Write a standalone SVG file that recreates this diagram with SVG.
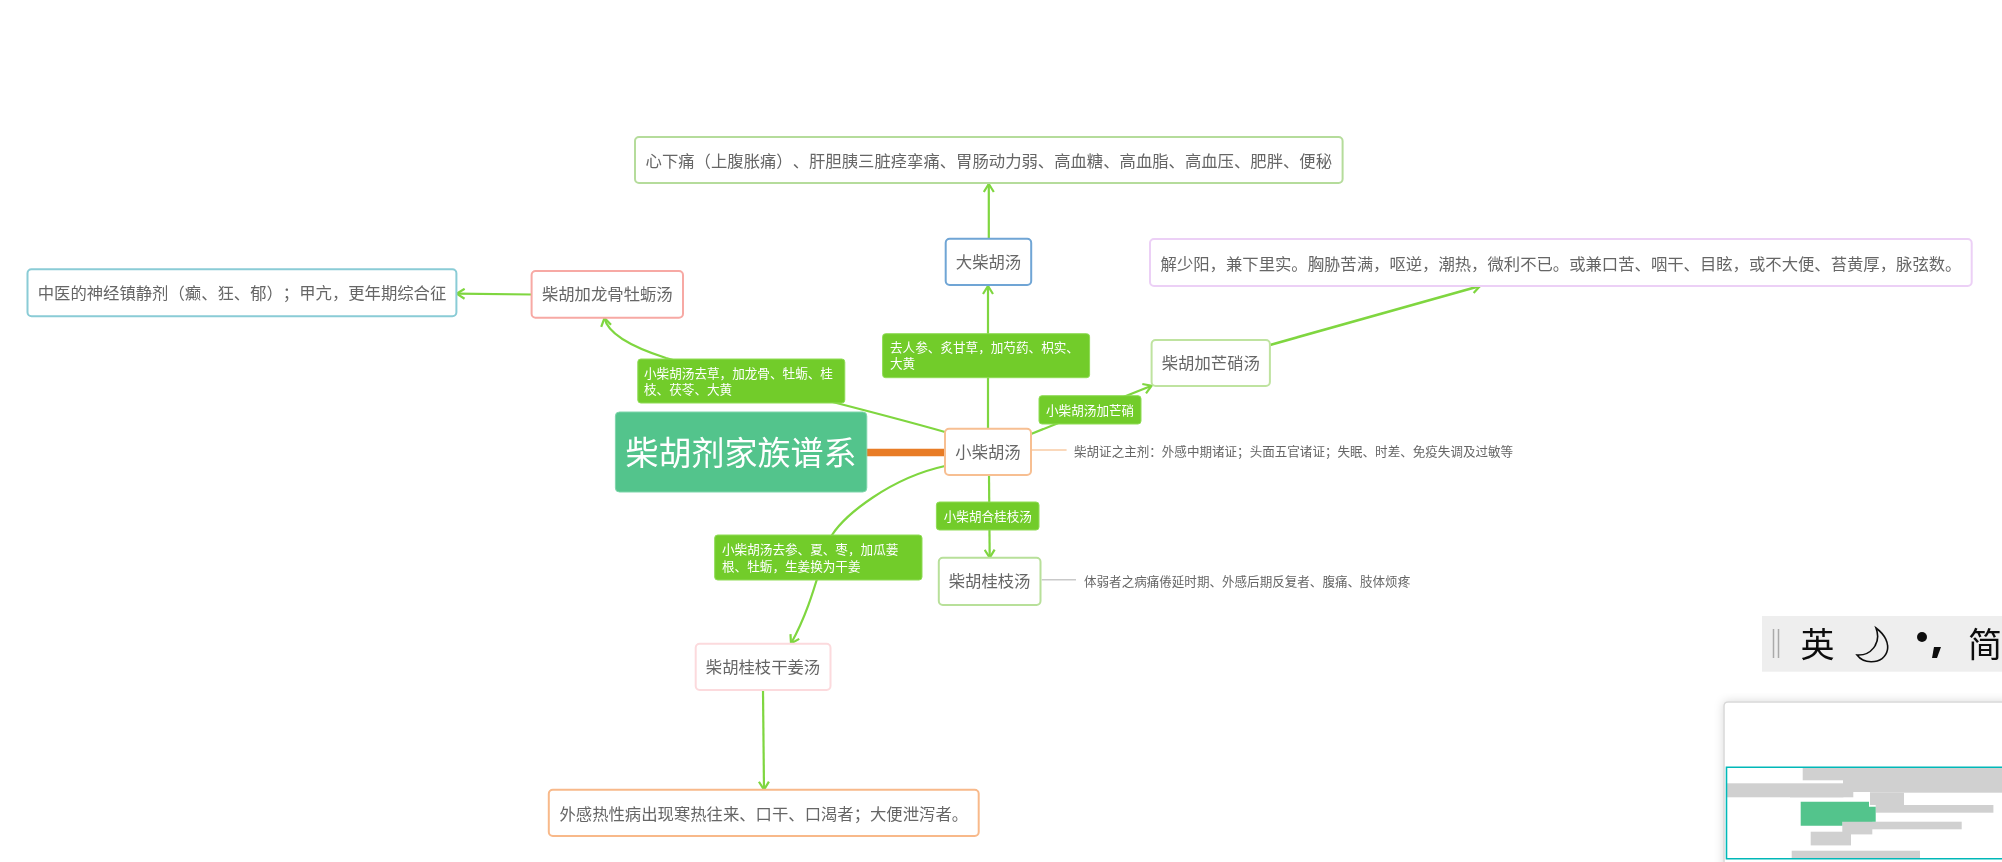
<svg xmlns="http://www.w3.org/2000/svg" width="2002" height="862" viewBox="0 0 2002 862">
<style>
text{font-family:"Noto Sans CJK SC","Liberation Sans",sans-serif;text-spacing-trim:space-all;font-kerning:none}
.n{fill:#fff;stroke-width:2}
.t{font-size:16.35px;fill:#666;text-anchor:middle}
.d{font-size:12.55px;fill:#666}
.l{fill:#72cc2c;stroke:#8fdc55;stroke-width:1}
.lt{font-size:12.6px;fill:#fff}
.c{fill:none;stroke:#7fd63f;stroke-width:2.2;marker-end:url(#a)}
.g{fill:#d0d0d0}
</style>
<defs>
<marker id="a" viewBox="-10 -6 11 12" refX="0" refY="0" markerWidth="11" markerHeight="12" markerUnits="userSpaceOnUse" orient="auto"><path d="M-8 -5L0 0L-8 5" fill="none" stroke="#7fd63f" stroke-width="2.2"/></marker>
<filter id="s" x="-5%" y="-5%" width="110%" height="110%"><feDropShadow dx="0" dy="0" stdDeviation="5" flood-color="#000" flood-opacity="0.15"/></filter>
<filter id="b" filterUnits="userSpaceOnUse" x="0" y="0" width="2002" height="862"><feGaussianBlur stdDeviation="0.45"/></filter>
</defs>
<rect width="2002" height="862" fill="#fff"/>
<g id="diagram" filter="url(#b)">
<g id="connectors">
<path d="M866 452.5H946" fill="none" stroke="#e87c25" stroke-width="7.5"/>
<path d="M1031 450H1066.6" fill="none" stroke="#f9cba5" stroke-width="1.5"/>
<path d="M1041.7 579.7H1076" fill="none" stroke="#c9c9c9" stroke-width="1.5"/>
<path class="c" d="M988 429V286"/>
<path class="c" d="M988.8 238.7V184"/>
<path class="c" d="M1031 434L1151.6 385.7"/>
<path class="c" style="stroke-width:2.6" d="M1270 345L1480 286"/>
<path class="c" d="M945 432C850 405 760 385 666 358C635 348 608 335 604.5 318"/>
<path class="c" d="M531.6 294.5L456.6 293.7"/>
<path class="c" d="M945 466C890 478 845 515 832 535C820 560 815 600 791 643.5"/>
<path class="c" d="M989 475L989.7 557.7"/>
<path class="c" d="M763 691L764 789.7"/>
</g>
<g id="root"><rect x="615.4" y="412" width="251.4" height="80" rx="4" fill="#52c48c" stroke="#7fd5ab" stroke-width="1"/><text x="741" y="465" font-size="33" fill="#fff" text-anchor="middle">柴胡剂家族谱系</text></g>
<g id="n-xiao"><rect class="n" x="945" y="428.7" width="86" height="46.3" rx="4" stroke="#f7bf92"/><text class="t" x="988" y="457.5">小柴胡汤</text></g>
<g id="n-da"><rect class="n" x="945.7" y="238.7" width="85.5" height="46.3" rx="4" stroke="#6fa5d5"/><text class="t" x="988.5" y="267.5">大柴胡汤</text></g>
<g id="n-top"><rect class="n" x="635" y="137" width="707.6" height="46" rx="4" stroke="#b5dc9b"/><text class="t" x="988.8" y="166.5">心下痛（上腹胀痛）、肝胆胰三脏痉挛痛、胃肠动力弱、高血糖、高血脂、高血压、肥胖、便秘</text></g>
<g id="n-mang"><rect class="n" x="1151.6" y="340" width="118.3" height="46" rx="4" stroke="#bfe3a0"/><text class="t" x="1210.8" y="369">柴胡加芒硝汤</text></g>
<g id="n-purple"><rect class="n" x="1150" y="239" width="821.7" height="47" rx="4" stroke="#ecd0f6"/><text class="t" x="1561" y="270">解少阳，兼下里实。胸胁苦满，呕逆，潮热，微利不已。或兼口苦、咽干、目眩，或不大便、苔黄厚，脉弦数。</text></g>
<g id="n-long"><rect class="n" x="531.6" y="271" width="151.4" height="46.7" rx="4" stroke="#f7a9a4"/><text class="t" x="607.3" y="300">柴胡加龙骨牡蛎汤</text></g>
<g id="n-shen"><rect class="n" x="27.5" y="269.3" width="428.9" height="47" rx="4" stroke="#8accd6"/><text class="t" x="242" y="299">中医的神经镇静剂（癫、狂、郁）；甲亢，更年期综合征</text></g>
<g id="n-gui"><rect class="n" x="938.8" y="557.7" width="101.7" height="47.3" rx="4" stroke="#b8e09a"/><text class="t" x="989.6" y="587">柴胡桂枝汤</text></g>
<g id="n-gan"><rect class="n" x="695.7" y="643.7" width="134.8" height="46.3" rx="4" stroke="#fcdadd"/><text class="t" x="763" y="673">柴胡桂枝干姜汤</text></g>
<g id="n-wai"><rect class="n" x="548.8" y="789.7" width="429.9" height="46.3" rx="4" stroke="#f8b98a"/><text class="t" x="763.8" y="819.5">外感热性病出现寒热往来、口干、口渴者；大便泄泻者。</text></g>
<g id="labels">
<g id="l-da"><rect class="l" x="882.6" y="333.7" width="207" height="44" rx="3"/><text class="lt" x="890" y="352.2">去人参、炙甘草，加芍药、枳实、</text><text class="lt" x="890" y="368.2">大黄</text></g>
<g id="l-long"><rect class="l" x="637.8" y="359" width="207" height="44" rx="3"/><text class="lt" x="644" y="378">小柴胡汤去草，加龙骨、牡蛎、桂</text><text class="lt" x="644" y="394">枝、茯苓、大黄</text></g>
<g id="l-mang"><rect class="l" x="1039" y="395.7" width="102" height="28.3" rx="3"/><text class="lt" x="1046" y="414.5">小柴胡汤加芒硝</text></g>
<g id="l-gui"><rect class="l" x="936.4" y="502" width="102.6" height="28" rx="3"/><text class="lt" x="943.7" y="521">小柴胡合桂枝汤</text></g>
<g id="l-gan"><rect class="l" x="714.7" y="535" width="207.3" height="45" rx="3"/><text class="lt" x="722" y="554">小柴胡汤去参、夏、枣，加瓜蒌</text><text class="lt" x="722" y="570.5">根、牡蛎，生姜换为干姜</text></g>
</g>
<g id="n-d1"><text class="d" x="1074" y="456">柴胡证之主剂：外感中期诸证；头面五官诸证；失眠、时差、免疫失调及过敏等</text></g>
<g id="n-d2"><text class="d" x="1084" y="586">体弱者之病痛倦延时期、外感后期反复者、腹痛、肢体烦疼</text></g>
<g id="ime">
<rect x="1762" y="616" width="240" height="55.7" fill="#eee"/>
<path d="M1773.5 629V658M1778.5 629V658" stroke="#aaa" stroke-width="1.5"/>
<text x="1800.5" y="657" font-size="34" fill="#111">英</text>
<path d="M1876 628C1895 642 1889 662 1871 661.7C1865 661.7 1860 659 1857 655C1870 656 1882 644 1876 628Z" fill="none" stroke="#111" stroke-width="1.6"/>
<circle cx="1922" cy="637" r="5" fill="#111"/>
<path d="M1934 647H1941L1937 658H1932Z" fill="#111"/>
<text x="1968" y="657" font-size="34" fill="#111">简</text>
</g>
<g id="minimap">
<path d="M2010 702H1728Q1724 702 1724 706V870H2010Z" fill="#fff" stroke="#d8d8d8" stroke-width="1.5" filter="url(#s)"/>
<g class="g">
<rect x="1802.7" y="768" width="200" height="12.3"/>
<rect x="1870" y="780" width="132" height="12.7"/>
<rect x="1726.7" y="783.3" width="116.7" height="14"/>
<rect x="1843" y="780" width="27" height="12"/>
<rect x="1790" y="791" width="63.3" height="6.3"/>
<rect x="1870" y="792.7" width="34" height="12.3"/>
<rect x="1875.7" y="805" width="117.7" height="7.7"/>
<rect x="1842.3" y="820.7" width="30" height="13.7"/>
<rect x="1872" y="821.7" width="89.7" height="7.6"/>
<rect x="1810.7" y="831.7" width="40.3" height="13.7"/>
<rect x="1791.7" y="850.7" width="128.3" height="8"/>
</g>
<path d="M1800.7 801.7H1869V806.7H1875.7V821.7H1842.3V825.7H1800.7Z" fill="#52c48c"/>
<path d="M1726.5 767.3H2003V858.7H1726.5Z" fill="none" stroke="#00b8b8" stroke-width="1.6"/>
</g>
</g>
</svg>
